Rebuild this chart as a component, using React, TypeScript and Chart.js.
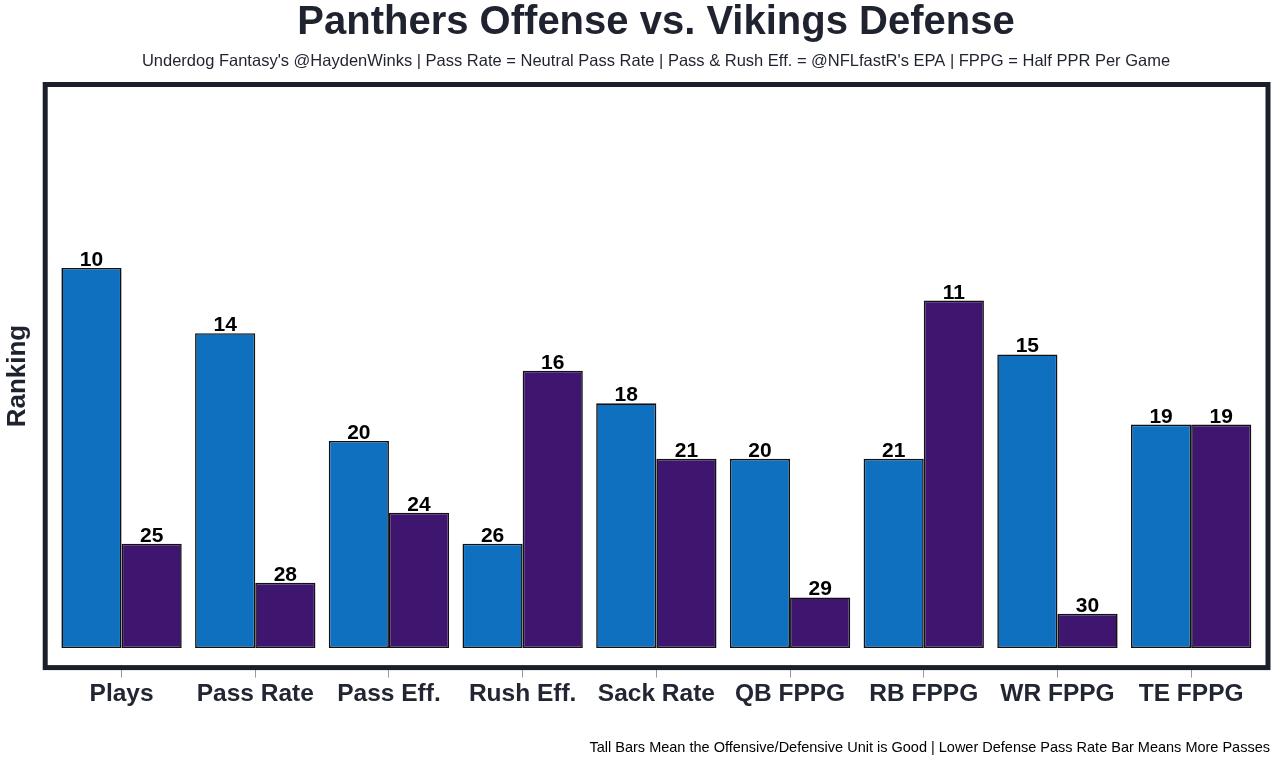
import React, { useEffect, useRef } from "react";
import { Chart, registerables } from "chart.js";

Chart.register(...registerables);

const categories = ["Plays", "Pass Rate", "Pass Eff.", "Rush Eff.", "Sack Rate", "QB FPPG", "RB FPPG", "WR FPPG", "TE FPPG"];
const offenseRank = [10, 14, 20, 26, 18, 20, 21, 15, 19];
const defenseRank = [25, 28, 24, 16, 21, 29, 11, 30, 19];
// bar heights (higher = better)
const offenseScore = [23.3, 19.3, 12.7, 6.4, 15.0, 11.6, 11.6, 18.0, 13.7];
const defenseScore = [6.4, 4.0, 8.3, 17.0, 11.6, 3.1, 21.3, 2.1, 13.7];

const titleText = "Panthers Offense vs. Vikings Defense";
const subtitleText = "Underdog Fantasy's @HaydenWinks | Pass Rate = Neutral Pass Rate | Pass & Rush Eff. = @NFLfastR's EPA | FPPG = Half PPR Per Game";
const footerText = "Tall Bars Mean the Offensive/Defensive Unit is Good | Lower Defense Pass Rate Bar Means More Passes";

const FONT = "'Liberation Sans', Arial, sans-serif";
const DARK = "#1f2330";

const decorPlugin = {
  id: "decor",
  afterDraw(chart: any) {
    const { ctx, chartArea, width } = chart;
    ctx.save();
    // frame
    ctx.strokeStyle = "#1c1f2a";
    ctx.lineWidth = 5;
    ctx.strokeRect(chartArea.left - 9.5, chartArea.top, chartArea.right - chartArea.left + 19.5, chartArea.bottom - chartArea.top);
    // title
    ctx.fillStyle = DARK;
    ctx.textAlign = "center";
    ctx.textBaseline = "middle";
    ctx.font = `bold 40px ${FONT}`;
    ctx.fillText(titleText, width / 2 + 16, 23);
    ctx.font = `16.5px ${FONT}`;
    ctx.fillText(subtitleText, width / 2 + 16, 61);
    // footer
    ctx.fillStyle = "#000";
    ctx.textAlign = "right";
    ctx.font = `14.5px ${FONT}`;
    ctx.fillText(footerText, 1270, 748);
    // value labels
    ctx.textAlign = "center";
    ctx.textBaseline = "alphabetic";
    ctx.font = `bold 21px ${FONT}`;
    ctx.fillStyle = "#000";
    const ranks = [offenseRank, defenseRank];
    chart.data.datasets.forEach((ds: any, di: number) => {
      const meta = chart.getDatasetMeta(di);
      meta.data.forEach((bar: any, i: number) => {
        ctx.fillText(String(ranks[di][i]), bar.x, bar.y - 2);
      });
    });
    ctx.restore();
  },
};

export default function App() {
  const ref = useRef<HTMLCanvasElement>(null);
  useEffect(() => {
    if (!ref.current) return;
    const chart = new Chart(ref.current, {
      type: "bar",
      data: {
        labels: categories,
        datasets: [
          {
            label: "Offense",
            data: offenseScore,
            backgroundColor: "#1070c0",
            borderColor: "#111111",
            borderWidth: 1.6,
            borderSkipped: false,
            categoryPercentage: 0.9,
            barPercentage: 1.0,
          },
          {
            label: "Defense",
            data: defenseScore,
            backgroundColor: "#3e166f",
            borderColor: "#111111",
            borderWidth: 1.6,
            borderSkipped: false,
            categoryPercentage: 0.9,
            barPercentage: 1.0,
          },
        ],
      },
      options: {
        animation: false,
        responsive: true,
        maintainAspectRatio: false,
        layout: { padding: { top: 84.5, bottom: 55, left: 2.5, right: 22 } },
        plugins: {
          legend: { display: false },
          title: { display: false },
          tooltip: { enabled: false },
        },
        scales: {
          x: {
            grid: { offset: false, drawOnChartArea: false, drawTicks: true, tickLength: 10, color: "#9a9a9a", lineWidth: 1 },
            border: { display: false },
            ticks: { color: "#222633", font: { family: FONT, size: 24.5, weight: "bold" }, padding: 2 },
          },
          y: {
            min: -1.2,
            max: 34.55,
            grid: { display: false, drawTicks: false },
            border: { display: false },
            ticks: { display: false },
            title: {
              display: true,
              text: "Ranking",
              color: DARK,
              font: { family: FONT, size: 26, weight: "bold" },
              padding: { top: 0, bottom: 21 },
            },
          },
        },
      },
      plugins: [decorPlugin],
    });
    return () => chart.destroy();
  }, []);
  return (
    <div style={{ position: "fixed", left: 0, top: 0, width: 1280, height: 766, background: "#fff" }}>
      <canvas ref={ref} />
    </div>
  );
}
